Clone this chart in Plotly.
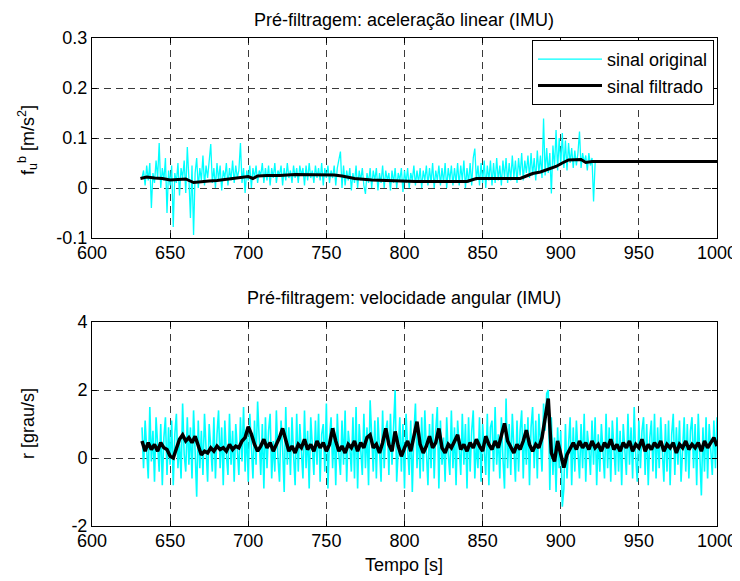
import numpy as np
import plotly.graph_objects as go

# ---------------- data ----------------
# linear acceleration, original signal, 1 s samples from t = 632 s
acc_start, acc_step = 632, 1
acc_orig = [0.02, 0.035, 0.005, 0.045, 0.015, 0.05, -0.04, 0.03, 0.01, 0.055,
            0.02, 0.09, 0.0, 0.04, 0.015, 0.06, -0.05, 0.035, 0.005, 0.045,
            -0.078, 0.03, 0.01, 0.05, -0.015, 0.04, 0.02, 0.055, -0.01, 0.082,
            0.02, -0.06, 0.045, -0.094, 0.03, 0.06, 0.0, 0.04, 0.015, 0.065,
            0.005, 0.045, 0.02, 0.055, 0.088, 0.01, 0.04, 0.0, 0.05, 0.015,
            0.045, -0.005, 0.035, 0.02, 0.05, 0.005, 0.04, 0.015, 0.055, 0.01,
            0.045, 0.02, 0.035, 0.09, 0.01, 0.04, -0.01, 0.035, 0.015, 0.045,
            0.0, 0.04, 0.02, 0.045, 0.01, 0.035, 0.025, 0.05, 0.01, 0.04,
            0.015, 0.045, 0.005, 0.04, 0.02, 0.05, 0.01, 0.035, 0.025, 0.045,
            0.005, 0.04, 0.015, 0.05, 0.02, 0.035, 0.01, 0.045, 0.02, 0.04,
            0.01, 0.045, 0.025, 0.04, 0.005, 0.045, 0.015, 0.05, 0.02, 0.035,
            0.01, 0.045, 0.02, 0.04, 0.015, 0.05, 0.005, 0.04, 0.02, 0.045,
            0.01, 0.035, 0.02, 0.045, 0.005, 0.04, 0.055, 0.073, 0.0, 0.045,
            0.005, 0.035, 0.015, 0.04, -0.005, 0.03, 0.01, 0.045, 0.0, 0.035,
            0.015, 0.04, 0.005, -0.012, 0.03, 0.01, 0.04, 0.0, 0.035, 0.015,
            0.04, -0.005, 0.03, 0.01, 0.045, 0.0, 0.035, 0.015, 0.03, -0.005,
            0.035, 0.01, 0.04, 0.0, 0.03, 0.015, 0.04, -0.008, 0.035, 0.01,
            0.04, 0.0, 0.03, 0.015, 0.045, 0.005, 0.035, 0.01, 0.04, 0.0,
            0.035, 0.015, 0.045, 0.005, 0.04, 0.01, 0.05, 0.0, 0.035, 0.015,
            0.045, 0.005, 0.04, 0.01, 0.05, 0.0, 0.04, 0.015, 0.045, 0.005,
            0.04, 0.01, 0.05, 0.005, 0.045, 0.015, 0.055, 0.0, 0.04, 0.01,
            0.05, 0.005, 0.06, 0.079, 0.015, 0.045, 0.005, 0.05, 0.01, 0.055,
            0.0, 0.045, 0.015, 0.055, 0.005, 0.05, 0.01, 0.06, 0.015, 0.045,
            0.005, 0.055, 0.02, 0.06, 0.01, 0.05, 0.015, 0.065, 0.02, 0.055,
            0.01, 0.06, 0.025, 0.07, 0.015, 0.055, 0.03, 0.065, 0.02, 0.07,
            0.025, 0.06, 0.015, 0.075, 0.03, 0.065, 0.02, 0.139, 0.025, 0.08,
            0.03, 0.07, -0.011, 0.085, 0.04, 0.116, 0.035, 0.1, 0.045, 0.11,
            0.04, 0.095, 0.035, 0.09, 0.05, 0.08, 0.04, 0.075, 0.045, 0.07,
            0.113, 0.04, 0.07, 0.05, 0.065, 0.035, 0.07, 0.045, 0.06, -0.027,
            0.05]
acc_orig_tail_t = [923, 1000]
acc_orig_tail_v = [0.053, 0.053]

# linear acceleration, filtered signal
acc_filt_t = [631, 635, 640, 645, 650, 655, 660, 665, 670, 675, 680, 687, 693, 700, 703,
              706, 712, 720, 730, 744, 755, 760, 768, 779, 788, 797, 807, 820, 830, 840,
              846, 860, 874, 878, 882, 887, 891, 894, 897, 901, 905, 913, 916, 920, 1000]
acc_filt_v = [0.019, 0.022, 0.020, 0.019, 0.016, 0.017, 0.018, 0.011, 0.013, 0.014,
              0.015, 0.018, 0.020, 0.023, 0.019, 0.024, 0.025, 0.025, 0.027, 0.026,
              0.026, 0.024, 0.019, 0.016, 0.015, 0.013, 0.013, 0.013, 0.013, 0.013,
              0.019, 0.019, 0.019, 0.024, 0.029, 0.032, 0.036, 0.040, 0.043, 0.050,
              0.056, 0.057, 0.051, 0.053, 0.053]

# angular velocity, original signal, 1 s samples from t = 632 s
gyr_start, gyr_step = 632, 1
gyr_orig = [0.9, -0.3, 1.1, 0.2, -0.6, 1.5, -0.1, 0.8, -0.7, 1.2,
            0.3, -0.4, 1.0, -0.8, 0.6, 1.2, -0.5, 0.9, -0.2, 1.1,
            -0.8, 0.7, 1.3, -0.3, 0.5, -0.6, 1.6, 0.1, -0.4, 1.2,
            -0.2, 0.9, -0.6, 1.4, 0.2, -1.14, 1.1, -0.3, 0.8, -0.5,
            1.3, 0.0, -0.7, 1.0, 0.4, -0.4, 1.2, -0.6, 0.7, 1.4,
            -0.3, 0.9, -0.8, 1.1, 0.1, -0.5, 1.3, -0.2, 0.8, -0.7,
            1.0, 0.3, -0.5, 1.2, -0.1, 1.5, -0.4, 0.9, -0.7, 1.3,
            0.2, -0.6, 1.1, -0.2, 1.66, 0.4, -0.5, 1.0, -0.9, 1.2,
            -0.3, 0.8, 1.3, -0.6, 0.5, -0.4, 1.4, 0.0, -0.7, 1.1,
            0.3, -1.0, 1.5, -0.2, 0.9, -0.5, 1.2, 0.1, -0.8, 1.3,
            -0.4, 1.0, 0.2, -0.6, 1.4, -0.3, 0.8, -0.9, 1.2, 0.4,
            -0.5, 1.1, -0.2, 1.3, -0.7, 0.7, 1.0, -0.4, 1.6, -0.9,
            0.6, 1.2, -0.3, 0.9, -0.8, 1.3, 0.1, -0.5, 1.1, -0.2,
            1.4, -0.7, 0.8, 0.3, -0.4, 1.2, -0.6, 1.5, -0.9, 1.0,
            0.2, -0.5, 1.3, -0.3, 0.9, -0.8, 1.7, 0.4, -0.4, 1.1,
            -0.6, 1.2, 0.0, -0.7, 1.4, -0.3, 0.8, 1.1, -0.5, 1.3,
            -0.2, 0.9, 2.0, -0.7, 0.5, 1.2, -0.4, 1.0, -0.9, 1.3,
            0.3, -0.5, 1.1, -1.0, 0.7, 1.6, -0.3, 0.9, -0.6, 1.2,
            -0.4, 1.4, 0.2, -0.8, 1.0, -0.3, 1.3, -0.6, 0.8, 1.5,
            -0.9, 1.1, -0.2, 0.6, -0.7, 1.2, 0.1, -0.5, 1.4, -0.3,
            0.9, -0.8, 1.1, 0.3, -0.5, 1.3, -0.2, 1.0, -0.9, 1.2,
            -0.4, 0.8, 1.4, -0.6, 0.5, -0.3, 1.2, -0.7, 1.0, 0.2,
            -0.5, 1.3, -0.8, 0.9, 1.1, -0.4, 1.5, -0.2, 0.7, -0.6,
            1.2, 0.0, -0.9, 1.75, -0.3, 1.0, -0.5, 1.3, 0.3, -0.7,
            1.1, -0.4, 0.8, 1.4, -0.6, 1.0, -0.2, 1.2, -0.8, 0.9,
            1.5, -0.3, 1.1, -0.6, 1.3, 0.4, -0.4, 1.6, 0.8, 1.9,
            2.0, -0.94, 1.2, -0.5, 0.6, -1.0, 0.9, -0.3, 0.8, -1.43,
            -0.9, 1.0, -0.6, 0.4, 1.2, -0.8, 0.9, -0.4, 1.1, 0.2,
            -0.6, 1.0, -0.3, 1.3, -0.7, 0.8, 0.3, -0.5, 1.1, -0.2,
            1.2, -0.8, 0.7, -0.4, 1.0, 0.2, -0.6, 1.3, -0.3, 0.9,
            -0.7, 1.1, 0.1, -0.5, 1.2, -0.4, 0.8, -0.8, 1.0, 0.3,
            -0.5, 1.3, -0.2, 0.9, -0.6, 1.5, 0.0, -0.7, 1.1, -0.3,
            0.8, 1.2, -0.5, 1.0, -0.8, 0.6, 1.1, -0.4, 1.3, -0.6,
            0.9, -0.3, 1.2, 0.2, -0.7, 1.0, -0.4, 1.1, -0.8, 0.7,
            1.3, -0.5, 0.9, -0.2, 1.1, -0.7, 0.4, 1.2, -0.4, 1.0,
            -0.6, 0.8, 1.2, -0.3, 1.0, -0.8, 1.3, 0.1, -1.1, 0.9,
            -0.4, 1.2, -0.6, 1.0, 0.3, -0.5, 1.1, -0.3, 1.2]

# angular velocity, filtered signal, 2 s samples from t = 632 s
gyr_filt_start, gyr_filt_step = 632, 2
gyr_filt = [0.5, 0.2, 0.45, 0.25, 0.4, 0.2, 0.45, 0.3, 0.25, 0.05,
            0.0, 0.3, 0.55, 0.68, 0.5, 0.6, 0.45, 0.64, 0.4, 0.09,
            0.2, 0.15, 0.3, 0.2, 0.35, 0.25, 0.3, 0.2, 0.4, 0.25,
            0.35, 0.3, 0.5, 0.6, 0.92, 0.7, 0.4, 0.2, 0.35, 0.55,
            0.3, 0.45, 0.2, 0.4, 0.6, 0.87, 0.5, 0.2, 0.35, 0.15,
            0.4, 0.3, 0.55, 0.25, 0.4, 0.2, 0.5, 0.3, 0.45, 0.2,
            0.4, 0.87, 0.5, 0.2, 0.35, 0.15, 0.4, 0.3, 0.5, 0.2,
            0.45, 0.3, 0.6, 0.68, 0.3, 0.4, 0.15, 0.45, 0.87, 0.4,
            0.2, 0.78, 0.35, 0.05, 0.3, 0.5, 0.2, 0.65, 1.07, 0.4,
            0.15, 0.35, 0.64, 0.3, 0.45, 0.87, 0.3, 0.15, 0.4, 0.3,
            0.5, 0.68, 0.25, 0.4, 0.2, 0.45, 0.3, 0.55, 0.35, 0.2,
            0.64, 0.4, 0.25, 0.5, 0.3, 0.7, 1.02, 0.5, 0.3, 0.15,
            0.4, 0.25, 0.5, 0.82, 0.4, 0.2, 0.4, 0.3, 0.6, 1.2,
            1.75, 0.15, -0.1, 0.5, 0.1, -0.28, 0.1, 0.3, 0.45, 0.25,
            0.5, 0.3, 0.45, 0.25, 0.5, 0.3, 0.4, 0.2, 0.45, 0.3,
            0.55, 0.25, 0.4, 0.2, 0.45, 0.3, 0.5, 0.2, 0.4, 0.3,
            0.55, 0.2, 0.4, 0.25, 0.45, 0.3, 0.5, 0.2, 0.4, 0.3,
            0.45, 0.15, 0.4, 0.3, 0.5, 0.25, 0.4, 0.3, 0.45, 0.2,
            0.5, 0.3, 0.45, 0.6, 0.35]

x_ticks = [600, 650, 700, 750, 800, 850, 900, 950, 1000]
acc_yticks = [-0.1, 0, 0.1, 0.2, 0.3]
acc_yticktext = ["-0.1", "0", "0.1", "0.2", "0.3"]
gyr_yticks = [-2, 0, 2, 4]
gyr_yticktext = ["-2", "0", "2", "4"]

# ---------------- figure ----------------
acc_t = acc_start + acc_step * np.arange(len(acc_orig))
gyr_t = gyr_start + gyr_step * np.arange(len(gyr_orig))
gyr_tf = gyr_filt_start + gyr_filt_step * np.arange(len(gyr_filt))

FONT = "Liberation Sans, Arial, sans-serif"
FS = 18
CYAN = "#00FFFF"

fig = go.Figure()
fig.add_trace(go.Scatter(x=list(acc_t) + acc_orig_tail_t, y=acc_orig + acc_orig_tail_v,
                         mode="lines", line=dict(color=CYAN, width=1.3),
                         name="sinal original", xaxis="x", yaxis="y"))
fig.add_trace(go.Scatter(x=acc_filt_t, y=acc_filt_v, mode="lines",
                         line=dict(color="black", width=3),
                         name="sinal filtrado", xaxis="x", yaxis="y"))
fig.add_trace(go.Scatter(x=gyr_t, y=gyr_orig, mode="lines", line=dict(color=CYAN, width=1.6),
                         showlegend=False, xaxis="x2", yaxis="y2"))
fig.add_trace(go.Scatter(x=gyr_tf, y=gyr_filt, mode="lines", line=dict(color="black", width=3.5),
                         showlegend=False, xaxis="x2", yaxis="y2"))

W, H = 740, 581
OFF = 8  # the page places the figure 8 px in from the top-left corner
def px_x(x):
    return (x - OFF) / W
def px_y(y):
    return (H - (y - OFF)) / H

top_dom = [px_y(238), px_y(38)]
bot_dom = [px_y(526), px_y(322)]

axis_common = dict(showline=True, linecolor="black", linewidth=1, mirror="ticks",
                   ticks="inside", ticklen=5, tickcolor="black", automargin=False,
                   showgrid=True, gridcolor="#3a3a3a", griddash="7px,5px", gridwidth=1,
                   zeroline=False,
                   tickfont=dict(family=FONT, size=FS, color="black"))

fig.update_layout(
    width=W, height=H, margin=dict(l=0, r=0, t=0, b=0, autoexpand=False),
    paper_bgcolor="white", plot_bgcolor="white",
    font=dict(family=FONT, size=FS, color="black"),
    xaxis=dict(domain=[px_x(92), px_x(717)], anchor="y", range=[600, 1000], tickvals=x_ticks,
               ticklabelstandoff=-2, **axis_common),
    yaxis=dict(domain=top_dom, anchor="x", range=[-0.1, 0.3], tickvals=acc_yticks,
               ticktext=acc_yticktext, ticklabelstandoff=0, **axis_common),
    xaxis2=dict(domain=[px_x(92), px_x(717)], anchor="y2", range=[600, 1000], tickvals=x_ticks,
                ticklabelstandoff=-2, **axis_common),
    yaxis2=dict(domain=bot_dom, anchor="x2", range=[-2, 4], tickvals=gyr_yticks,
                ticktext=gyr_yticktext, ticklabelstandoff=0, **axis_common),
    legend=dict(x=px_x(714), xanchor="right", y=px_y(40), yanchor="top",
                bgcolor="white", bordercolor="black", borderwidth=1,
                font=dict(family=FONT, size=FS), itemwidth=64, tracegroupgap=0),
    showlegend=True,
)

def add_text(text, x_px, y_px, angle=0):
    fig.add_annotation(text=text, x=px_x(x_px), y=px_y(y_px), xref="paper", yref="paper",
                       xanchor="center", yanchor="middle", textangle=angle,
                       showarrow=False, font=dict(family=FONT, size=FS, color="black"))

add_text("Pré-filtragem: aceleração linear (IMU)", 404, 20)
add_text("Pré-filtragem: velocidade angular (IMU)", 404, 298)
add_text("Tempo [s]", 404, 565)
add_text("f<sub>u</sub><sup>b</sup> [m/s<sup>2</sup>]", 27, 140, -90)
add_text("r [grau/s]", 28, 424, -90)

fig.write_html("out.html")
